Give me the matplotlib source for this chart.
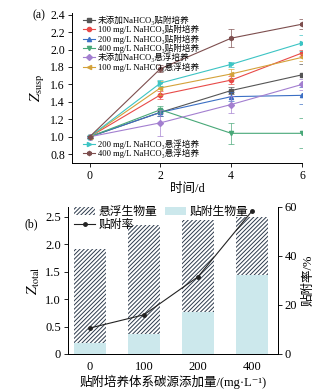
import matplotlib
matplotlib.use("Agg")
import matplotlib.pyplot as plt

plt.rcParams['font.family'] = ['Liberation Serif', 'Noto Sans CJK SC', 'DejaVu Serif']
plt.rcParams['mathtext.fontset'] = 'stix'
plt.rcParams['hatch.linewidth'] = 0.7
plt.rcParams['axes.linewidth'] = 0.7

# (a) Z_susp over time
days = [0, 2, 4, 6]
labels_a = ['未添加NaHCO₃贴附培养', '100 mg/L NaHCO₃贴附培养', '200 mg/L NaHCO₃贴附培养',
            '400 mg/L NaHCO₃贴附培养', '未添加NaHCO₃悬浮培养', '100 mg/L NaHCO₃悬浮培养',
            '200 mg/L NaHCO₃悬浮培养', '400 mg/L NaHCO₃悬浮培养']
att_0 = [1.00, 1.28, 1.53, 1.71]
att_100 = [1.00, 1.48, 1.65, 1.96]
att_200 = [1.00, 1.28, 1.46, 1.475]
att_400 = [1.00, 1.31, 1.04, 1.04]
sus_0 = [1.00, 1.16, 1.37, 1.60]
sus_100 = [1.00, 1.56, 1.72, 1.91]
sus_200 = [1.00, 1.615, 1.83, 2.075]
sus_400 = [1.00, 1.78, 2.13, 2.29]
err_att_0 = [0.01, 0.04, 0.04, 0.12]
err_att_100 = [0.01, 0.05, 0.05, 0.04]
err_att_200 = [0.01, 0.04, 0.05, 0.10]
err_att_400 = [0.01, 0.04, 0.12, 0.17]
err_sus_0 = [0.01, 0.15, 0.10, 0.06]
err_sus_100 = [0.01, 0.08, 0.06, 0.04]
err_sus_200 = [0.01, 0.03, 0.03, 0.09]
err_sus_400 = [0.01, 0.04, 0.10, 0.06]

# (b) biomass and attachment rate
dose = ['0', '100', '200', '400']
z_total = [1.92, 2.35, 2.44, 2.50]
z_attached = [0.20, 0.37, 0.76, 1.44]
attach_rate = [10.6, 16.0, 31.5, 58.3]

series = [att_0, att_100, att_200, att_400, sus_0, sus_100, sus_200, sus_400]
errs = [err_att_0, err_att_100, err_att_200, err_att_400, err_sus_0, err_sus_100, err_sus_200, err_sus_400]
colors = ['#555555', '#e84a48', '#3b6fc4', '#48a878', '#a37fd0', '#d4a23a', '#3cc4c4', '#7d4e4e']
markers = ['s', 'o', '^', 'v', 'D', '<', '>', 'h']

fig = plt.figure(figsize=(3.36, 3.89), dpi=100)
ax1 = fig.add_axes([0.214, 0.581, 0.685, 0.386])

lines = []
for y, e, c, m, lab in zip(series, errs, colors, markers, labels_a):
    ax1.errorbar(days, y, yerr=e, fmt='none', ecolor=c, elinewidth=0.6, capsize=2, capthick=0.6, alpha=0.8)
    ln, = ax1.plot(days, y, color=c, marker=m, markersize=3, linewidth=0.8, label=lab)
    lines.append(ln)

ax1.set_xlim(-0.5, 6)
ax1.set_ylim(0.7, 2.42)
ax1.set_xticks(days)
ax1.set_yticks([0.8, 1.0, 1.2, 1.4, 1.6, 1.8, 2.0, 2.2, 2.4])
ax1.yaxis.set_major_formatter(matplotlib.ticker.FormatStrFormatter('%.1f'))
ax1.spines['top'].set_visible(False)
ax1.spines['right'].set_visible(False)
ax1.tick_params(direction='out', length=3, width=0.6, labelsize=8.5, pad=2)
ax1.set_xlabel('时间/d', fontsize=9, labelpad=1)
ax1.set_ylabel(r'$Z_{\mathrm{susp}}$', fontsize=10.5, labelpad=2)
ax1.text(-0.17, 0.985, '(a)', transform=ax1.transAxes, fontsize=8.5, va='center')

leg_kw = dict(frameon=False, fontsize=6.2, handlelength=1.5, handletextpad=0.3,
              labelspacing=0.0, borderpad=0.2)
leg1 = ax1.legend(handles=lines[:6], loc='upper left', bbox_to_anchor=(0.02, 1.02), **leg_kw)
ax1.add_artist(leg1)
ax1.legend(handles=lines[6:], loc='lower left', bbox_to_anchor=(0.02, -0.01), **leg_kw)

# panel b
ax2 = fig.add_axes([0.202, 0.090, 0.625, 0.378])
xpos = range(len(dose))
suspended = [t - a for t, a in zip(z_total, z_attached)]
b_att = ax2.bar(xpos, z_attached, width=0.6, color='#cce8ec', linewidth=0, label='贴附生物量')
b_sus = ax2.bar(xpos, suspended, bottom=z_attached, width=0.6, color='white', edgecolor='#2c3a4c',
                linewidth=0, hatch='////////', label='悬浮生物量')
ax2.set_xlim(-0.41, 3.48)
ax2.set_ylim(0, 2.68)
ax2.set_xticks(list(xpos))
ax2.set_xticklabels(dose)
ax2.set_yticks([0, 0.5, 1.0, 1.5, 2.0, 2.5])
ax2.set_yticklabels(['0', '0.5', '1.0', '1.5', '2.0', '2.5'])
ax2.spines['top'].set_visible(False)
ax2.tick_params(axis='y', direction='out', length=3, width=0.6, labelsize=9, pad=2)
ax2.tick_params(axis='x', length=0, labelsize=9, pad=5)
ax2.set_xlabel('贴附培养体系碳源添加量/(mg·L⁻¹)', fontsize=9, labelpad=1)
ax2.set_ylabel(r'$Z_{\mathrm{total}}$', fontsize=10.5, labelpad=2)
ax2.text(-0.205, 0.885, '(b)', transform=ax2.transAxes, fontsize=8.5, va='center')

ax3 = ax2.twinx()
ln_rate, = ax3.plot(list(xpos), attach_rate, color='#222222', marker='o', markersize=2.5, linewidth=0.8,
                    label='贴附率')
ax3.set_ylim(0, 60)
ax3.set_yticks([0, 20, 40, 60])
ax3.spines['top'].set_visible(False)
ax3.tick_params(axis='y', direction='out', length=3, width=0.6, labelsize=9, pad=2)
ax3.set_ylabel('贴附率/%', fontsize=9, rotation=90, labelpad=4)

ax2.legend(handles=[b_sus, ln_rate, b_att], loc='upper left', bbox_to_anchor=(-0.01, 1.06), ncol=2,
           frameon=False, fontsize=8.5, handlelength=1.8, handletextpad=0.3, labelspacing=0.05,
           columnspacing=0.6, borderpad=0.2)

fig.savefig('out.png', dpi=100)
